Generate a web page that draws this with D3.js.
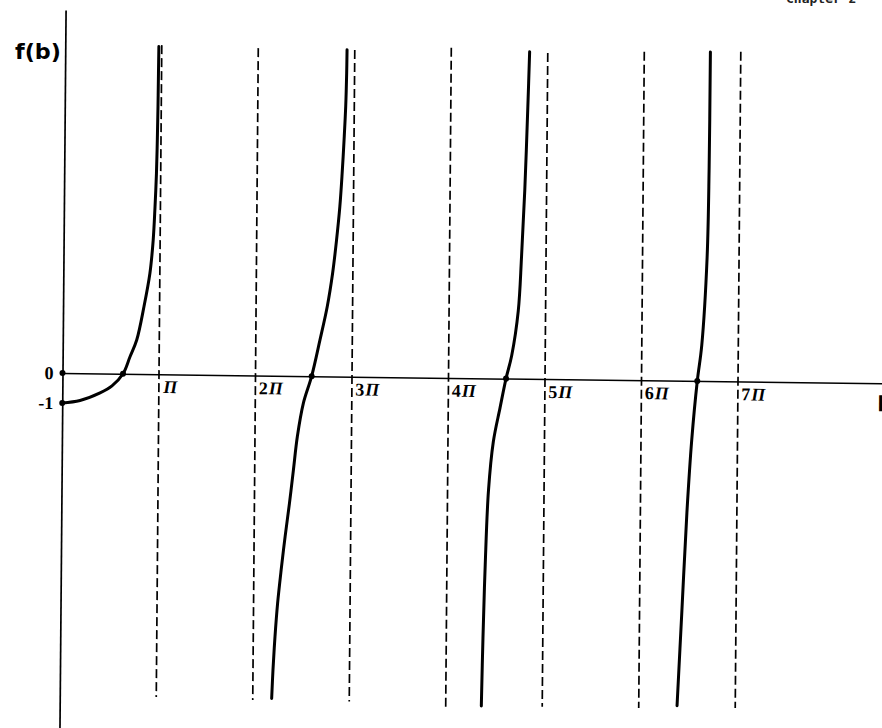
<!DOCTYPE html>
<html>
<head>
<meta charset="utf-8">
<script src="https://cdn.jsdelivr.net/npm/d3@7"></script>
<style>
  body { margin: 0; background: #fff; }
  svg { display: block; }
</style>
</head>
<body>
<svg width="882" height="728"></svg>
<script>
// b is given in units of pi, f(b)
const piTicks = [1, 2, 3, 4, 5, 6, 7]
const piTickLabels = ["", "2", "3", "4", "5", "6", "7"]
const asymptoteTop = [10.97, 10.91, 10.89, 11.0, 10.87, 10.95, 10.99]
const asymptoteBottom = [-10.76, -10.82, -10.83, -10.96, -10.92, -10.92, -10.88]

const yTicks = [0, -1]
const yTickLabels = ["0", "-1"]

const branch1 = [[0, -1], [0.184, -0.91], [0.391, -0.65], [0.514, -0.41], [0.627, 0], [0.698, 0.57],
  [0.766, 1.13], [0.838, 2.24], [0.897, 3.36], [0.928, 4.47], [0.944, 5.58], [0.956, 6.70],
  [0.962, 7.81], [0.966, 8.92], [0.968, 10.03], [0.970, 10.92]]
const branch2 = [[2.196, -10.76], [2.207, -9.81], [2.225, -8.70], [2.249, -7.59], [2.283, -6.47],
  [2.321, -5.36], [2.363, -4.25], [2.401, -3.14], [2.439, -2.02], [2.498, -0.91], [2.582, 0],
  [2.665, 1.21], [2.737, 2.32], [2.790, 3.44], [2.828, 4.55], [2.859, 5.66], [2.880, 6.77],
  [2.897, 7.89], [2.911, 9.0], [2.918, 10.11], [2.920, 10.89]]
const branch3 = [[4.369, -10.92], [4.380, -8.66], [4.397, -6.21], [4.424, -3.75], [4.470, -2.11],
  [4.537, -0.97], [4.596, 0], [4.653, 0.77], [4.717, 2.26], [4.746, 4.06], [4.774, 6.30],
  [4.800, 9.29], [4.812, 10.9]]
const branch4 = [[6.397, -10.83], [6.439, -7.65], [6.482, -4.40], [6.526, -1.96], [6.578, 0],
  [6.621, 1.18], [6.669, 4.12], [6.682, 7.07], [6.685, 10.97]]

const zeroCrossings = [0.627, 2.582, 4.596, 6.578]

const svg = d3.select("svg")

// the scan is slightly skewed, so the whole plot sits in a sheared frame
const g = svg.append("g")
  .attr("transform", "matrix(1, 0.0126, -0.0085, 1, 62.5, 373)")

const x = d3.scaleLinear().domain([0, 8.6]).range([0, 96.5 * 8.6])
const y = d3.scaleLinear().domain([-12, 12.1]).range([360, -363])

// asymptotes
g.append("g")
  .selectAll("line")
  .data(piTicks)
  .join("line")
  .attr("x1", d => x(d)).attr("x2", d => x(d))
  .attr("y1", (d, i) => y(asymptoteTop[i]))
  .attr("y2", (d, i) => y(asymptoteBottom[i]))
  .attr("stroke", "#000")
  .attr("stroke-width", 1.7)
  .attr("stroke-dasharray", "9,4")

// x axis
const xAxis = g.append("g")
  .call(d3.axisBottom(x).tickValues(piTicks).tickSize(0).tickSizeOuter(0))
xAxis.select(".domain").attr("stroke-width", 1.5)
xAxis.selectAll(".tick text")
  .attr("x", 3).attr("y", 6).attr("dy", "0.71em")
  .attr("text-anchor", "start")
  .attr("font-family", "'Liberation Serif', 'DejaVu Serif', serif")
  .attr("font-weight", "bold")
  .attr("font-size", 18)
  .each(function(d, i) {
    const t = d3.select(this).text(null)
    if (piTickLabels[i]) t.append("tspan").text(piTickLabels[i])
    t.append("tspan").attr("font-style", "italic").attr("dx", 1).text("Π")
  })

// y axis
const yAxis = g.append("g")
  .call(d3.axisLeft(y).tickValues(yTicks).tickSize(0).tickSizeOuter(0).tickPadding(9)
    .tickFormat((d, i) => yTickLabels[i]))
yAxis.select(".domain").attr("stroke-width", 1.7)
yAxis.selectAll(".tick text")
  .attr("font-family", "'Liberation Serif', 'DejaVu Serif', serif")
  .attr("font-weight", "bold")
  .attr("font-size", 18)

// curve branches
const line = d3.line()
  .x(d => x(d[0]))
  .y(d => y(d[1]))
  .curve(d3.curveCatmullRom.alpha(0.5))

g.append("g")
  .selectAll("path")
  .data([branch1, branch2, branch3, branch4])
  .join("path")
  .attr("d", line)
  .attr("fill", "none")
  .attr("stroke", "#000")
  .attr("stroke-width", 3)
  .attr("stroke-linecap", "round")

// dots at the roots and on the y axis
g.append("g")
  .selectAll("circle")
  .data(zeroCrossings.map(b => [b, 0]).concat(yTicks.map(f => [0, f])))
  .join("circle")
  .attr("cx", d => x(d[0]))
  .attr("cy", d => y(d[1]))
  .attr("r", 3)
  .attr("fill", "#000")

// axis titles
svg.append("text")
  .attr("x", 15).attr("y", 59)
  .attr("font-family", "'DejaVu Sans', sans-serif")
  .attr("font-weight", "bold")
  .attr("font-size", 21)
  .attr("textLength", 46)
  .attr("lengthAdjust", "spacingAndGlyphs")
  .text("f(b)")

g.append("text")
  .attr("x", 815).attr("y", 28)
  .attr("font-family", "'DejaVu Sans', sans-serif")
  .attr("font-weight", "bold")
  .attr("font-size", 21)
  .text("b")

// page header, cut off by the scan
svg.append("text")
  .attr("x", 786).attr("y", 3)
  .attr("font-family", "'DejaVu Sans Mono', monospace")
  .attr("font-weight", "bold")
  .attr("font-size", 13)
  .attr("fill", "#222")
  .text("Chapter 2")
</script>
</body>
</html>
